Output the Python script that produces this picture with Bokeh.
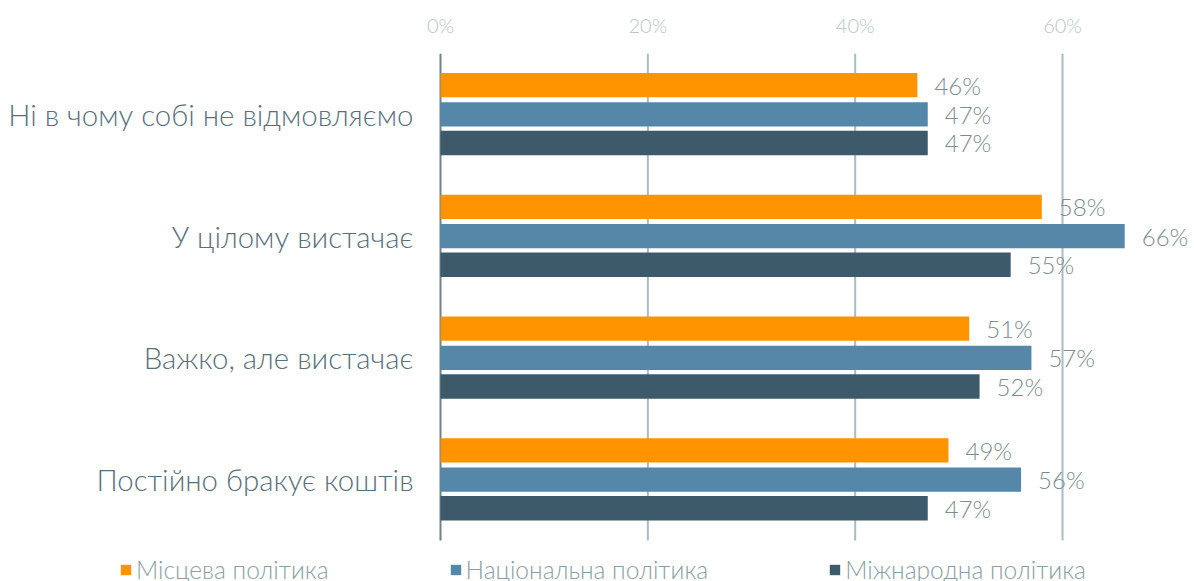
from bokeh.plotting import figure
from bokeh.models import (ColumnDataSource, Range1d, FixedTicker,
                          PrintfTickFormatter, Legend, LegendItem)
from bokeh.transform import dodge
from bokeh.embed import file_html
from bokeh.resources import INLINE
from bokeh.core.properties import value

categories = ["Ні в чому собі не відмовляємо", "У цілому вистачає",
              "Важко, але вистачає", "Постійно бракує коштів"]
series_names = ["Місцева політика", "Національна політика", "Міжнародна політика"]
local = [46, 58, 51, 49]
national = [47, 66, 57, 56]
international = [47, 55, 52, 47]
x_ticks = [0, 20, 40, 60]

colors = ["#FF9300", "#5587A8", "#3D5A6A"]
FONT = "Lato Light"

n = len(categories)
ypos = list(range(n))[::-1]  # first category on top

src = ColumnDataSource(dict(
    cat=categories, y=ypos,
    local=local, national=national, international=international,
    local_lbl=[f"{v}%" for v in local],
    national_lbl=[f"{v}%" for v in national],
    international_lbl=[f"{v}%" for v in international],
))

PX_X = 10.367   # pixels per percent
PX_Y = 121.75   # pixels per category
FRAME_W, FRAME_H = 1194, 528
x0_px = 440     # pixel position of 0%

p = figure(x_range=Range1d(-x0_px / PX_X, (FRAME_W - x0_px) / PX_X),
           y_range=Range1d(n - 0.5 - FRAME_H / PX_Y, n - 0.5),
           frame_width=FRAME_W, frame_height=FRAME_H,
           min_border_left=0, min_border_top=53, min_border_bottom=0,
           min_border_right=0, x_axis_location="above", y_axis_location=None,
           output_backend="svg", toolbar_location=None)
p.outline_line_color = None
p.background_fill_color = "white"
p.border_fill_color = "white"
p.xgrid.grid_line_color = None
p.ygrid.grid_line_color = None

# grid lines (span only the category area)
grid_src = ColumnDataSource(dict(
    x=x_ticks, y0=[-0.5] * len(x_ticks), y1=[n - 0.5] * len(x_ticks),
    color=["#6E8288" if t == 0 else "#A9BCC0" for t in x_ticks],
))
p.segment(x0="x", x1="x", y0="y0", y1="y1", source=grid_src,
          line_color="color", line_width=2)

offsets = [0.24, 0.0, -0.235]
fields = ["local", "national", "international"]
renderers = []
for f, off, c in zip(fields, offsets, colors):
    r = p.hbar(y=dodge("y", off), left=0, right=f, height=0.2,
               source=src, fill_color=c, line_color=None)
    renderers.append(r)
    p.text(x=f, y=dodge("y", off), text=f + "_lbl", source=src,
           x_offset=17, text_baseline="middle", text_align="left",
           text_font=value(FONT), text_font_size="24px", text_color="#7D8C91")

# category labels
p.text(x=0, y="y", text="cat", source=src, x_offset=-27,
       text_baseline="middle", text_align="right",
       text_font=value(FONT), text_font_size="29.4px", text_color="#5A6F7C")

# x axis (top)
xa = p.xaxis[0]
xa.ticker = FixedTicker(ticks=x_ticks)
xa.formatter = PrintfTickFormatter(format="%d%%")
xa.axis_line_color = None
xa.major_tick_line_color = None
xa.minor_tick_line_color = None
xa.major_label_text_font = FONT
xa.major_label_text_font_size = "20px"
xa.major_label_text_color = "#B7C6C9"
xa.major_label_standoff = 11

legend = Legend(items=[LegendItem(label=s, renderers=[r]) for s, r in zip(series_names, renderers)],
                orientation="horizontal", location=(119, -3),
                glyph_width=13, glyph_height=13, label_standoff=4, spacing=120,
                padding=0, margin=0, border_line_color=None, background_fill_alpha=0,
                label_text_font=FONT, label_text_font_size="24.5px",
                label_text_color="#8A9EA3")
p.add_layout(legend, "center")

open("out.html", "w").write(file_html(p, INLINE))
